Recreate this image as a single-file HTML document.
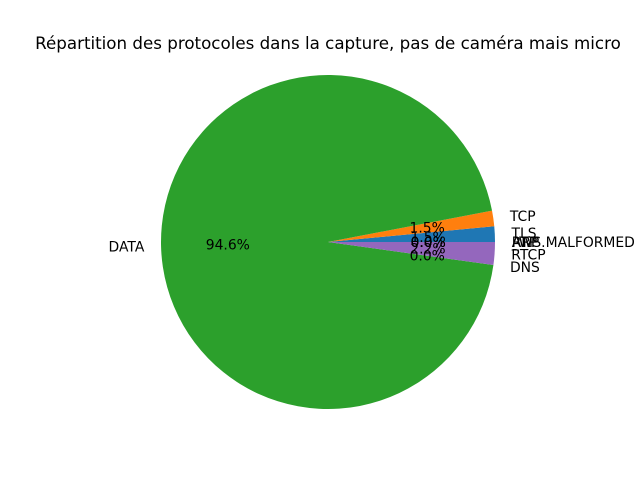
<!DOCTYPE html>
<html><head><meta charset="utf-8"><style>
body{margin:0;background:#fff}
svg{display:block;font-family:"DejaVu Sans","Liberation Sans",sans-serif}
</style></head><body>
<svg id="chart" width="640" height="480">
<rect width="640" height="480" fill="#fff"/>
<text x="328" y="49" text-anchor="middle" font-size="16.7">Répartition des protocoles dans la capture, pas de caméra mais micro</text>
<g id="slices"></g><g id="labels"></g>
</svg>
<script>
const categories = ["TLS","TCP","DATA","DNS","RTCP","ARP","RTP","_WS.MALFORMED"];
const values = [1.5, 1.5, 94.6, 0.0, 2.2, 0.0, 0.0, 0.0];
const colors = ["#1f77b4","#ff7f0e","#2ca02c","#d62728","#9467bd","#8c564b","#e377c2","#7f7f7f"];
const cx=328, cy=242, r=167;
const total = values.reduce((a,b)=>a+b,0);
const ns="http://www.w3.org/2000/svg";
const gS=document.getElementById('slices'), gL=document.getElementById('labels');
let a=0;
function pt(ang,rad){return [cx+rad*Math.cos(ang*Math.PI/180), cy-rad*Math.sin(ang*Math.PI/180)];}
values.forEach((v,i)=>{
  const sweep=v/total*360, a2=a+sweep, mid=a+sweep/2;
  if(sweep>0){
    const p1=pt(a,r), p2=pt(a2,r);
    const path=document.createElementNS(ns,'path');
    path.setAttribute('d',`M${cx},${cy} L${p1[0]},${p1[1]} A${r},${r} 0 ${sweep>180?1:0} 0 ${p2[0]},${p2[1]} Z`);
    path.setAttribute('fill',colors[i]);
    
    
    gS.appendChild(path);
  }
  const lp=pt(mid,r*1.1);
  const t=document.createElementNS(ns,'text');
  t.setAttribute('x',lp[0]); t.setAttribute('y',lp[1]+4.8);
  t.setAttribute('font-size','13.9');
  t.setAttribute('text-anchor',Math.cos(mid*Math.PI/180)>=0?'start':'end');
  t.textContent=categories[i];
  
  
  gL.appendChild(t);
  const pp=pt(mid,r*0.6);
  const t2=document.createElementNS(ns,'text');
  t2.setAttribute('x',pp[0]); t2.setAttribute('y',pp[1]+4.8);
  t2.setAttribute('font-size','13.9'); t2.setAttribute('text-anchor','middle');
  t2.textContent=v.toFixed(1)+'%';
  
  
  gL.appendChild(t2);
  a=a2;
});
</script>
</body></html>
